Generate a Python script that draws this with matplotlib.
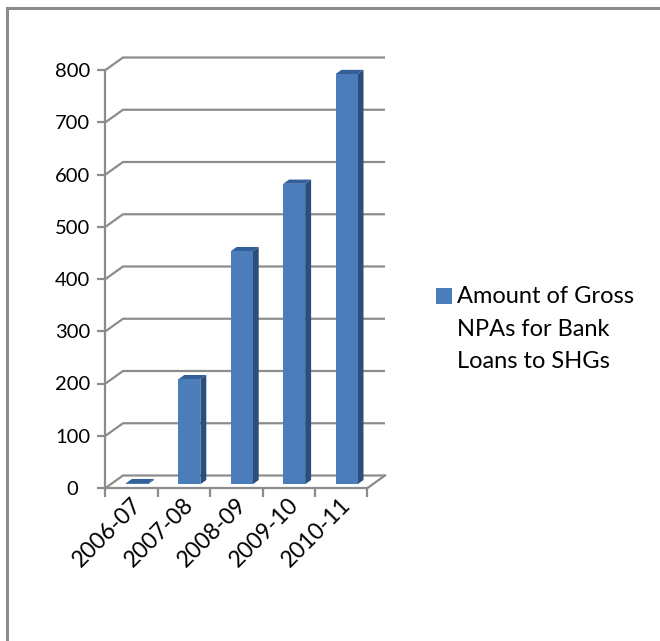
import matplotlib.pyplot as plt
from matplotlib.patches import Rectangle, Polygon
from matplotlib.lines import Line2D
from matplotlib.legend_handler import HandlerPatch

periods = ['2006-07', '2007-08', '2008-09', '2009-10', '2010-11']
npa_amount = [2, 201, 446, 575, 785]
series_label = 'Amount of Gross\nNPAs for Bank\nLoans to SHGs'
y_ticks = list(range(0, 801, 100))

plt.rcParams['font.family'] = ['Lato', 'DejaVu Sans']

grid_color = '#8c8c8c'
front_color = '#4a7dba'
side_color = '#2b4f7d'
top_color = '#34609a'

W, H = 660, 641
fig = plt.figure(figsize=(W / 100, H / 100), dpi=100)

# axes laid out in pixels so the fake 3-D offsets stay in proportion
left, right, bottom, top = 60, 400, 100, 620
ax = fig.add_axes([left / W, bottom / H, (right - left) / W, (top - bottom) / H])
x0px, unit_x = 105.5, 52.4
y0px, unit_y = H - 488, 418 / 800
ax.set_xlim((left - x0px) / unit_x, (right - x0px) / unit_x)
ax.set_ylim((bottom - y0px) / unit_y, (top - y0px) / unit_y)

n = len(periods)
ddx = 17.5 / unit_x   # depth of the floor, data units
ddy = 12.5 / unit_y

# side wall, back wall gridlines and the floor
for v in y_ticks:
    ax.plot([0, ddx, n + ddx], [v, v + ddy, v + ddy], color=grid_color, lw=1.6,
            solid_capstyle='butt', zorder=1)
ax.plot([n, n + ddx], [0, ddy], color=grid_color, lw=1.6, zorder=1)

# bars: front face, right side and top
bar_w = 0.42
bar_front = 0.3   # fraction of floor depth where the bar starts
bar_depth = 0.34
for i, v in enumerate(npa_amount):
    bx = i + 0.5 - bar_w / 2 + bar_front * ddx
    by = bar_front * ddy
    sx, sy = bar_depth * ddx, bar_depth * ddy
    ax.add_patch(Polygon([(bx + bar_w, by), (bx + bar_w + sx, by + sy),
                          (bx + bar_w + sx, by + sy + v), (bx + bar_w, by + v)],
                         closed=True, fc=side_color, ec='none', zorder=3))
    ax.add_patch(Polygon([(bx, by + v), (bx + bar_w, by + v),
                          (bx + bar_w + sx, by + v + sy), (bx + sx, by + v + sy)],
                         closed=True, fc=top_color, ec='none', zorder=3))
    ax.add_patch(Rectangle((bx, by), bar_w, v, fc=front_color, ec='none', zorder=4))

for side in ('top', 'right'):
    ax.spines[side].set_visible(False)
ax.spines['left'].set_position(('data', 0))
ax.spines['left'].set_bounds(0, 800)
ax.spines['bottom'].set_position(('data', 0))
ax.spines['bottom'].set_bounds(0, n)
for side in ('left', 'bottom'):
    ax.spines[side].set_color(grid_color)
    ax.spines[side].set_linewidth(1.6)
    ax.spines[side].set_zorder(2)

ax.set_yticks(y_ticks)
ax.tick_params(axis='y', length=5.8, width=1.6, color=grid_color, pad=18,
               labelsize=14.5)
for lab in ax.get_yticklabels():
    lab.set_horizontalalignment('center')
ax.set_xticks(range(n + 1))
ax.set_xticklabels([])
ax.tick_params(axis='x', which='major', length=6.5, width=1.6, color=grid_color)
ax.set_xticks([i + 0.5 + 0.12 for i in range(n)], minor=True)
ax.set_xticklabels(periods, minor=True, rotation=45, ha='right', va='center',
                   rotation_mode='anchor')
ax.tick_params(axis='x', which='minor', length=0, pad=10, labelsize=16.5)


def square_on_first_line(legend, orig_handle, xdescent, ydescent, width, height, fontsize):
    return Rectangle((-xdescent, -ydescent + 24.1), width, height)


leg = fig.legend(handles=[Rectangle((0, 0), 1, 1, fc=front_color)], labels=[series_label],
                 loc='upper left', bbox_to_anchor=(436 / W, (H - 286) / H),
                 frameon=False, fontsize=17, handlelength=0.66, handleheight=0.66,
                 handletextpad=0.25, borderpad=0, borderaxespad=0,
                 handler_map={Rectangle: HandlerPatch(patch_func=square_on_first_line)})
leg.get_texts()[0].set_linespacing(1.68)

# chart area frame (left and top edges only)
fig.add_artist(Line2D([7 / W, 7 / W], [0, (H - 8) / H], transform=fig.transFigure,
                      color=grid_color, lw=2.2))
fig.add_artist(Line2D([7 / W, 1], [(H - 8) / H, (H - 8) / H], transform=fig.transFigure,
                      color=grid_color, lw=2.2))

fig.savefig('out.png', dpi=100)
